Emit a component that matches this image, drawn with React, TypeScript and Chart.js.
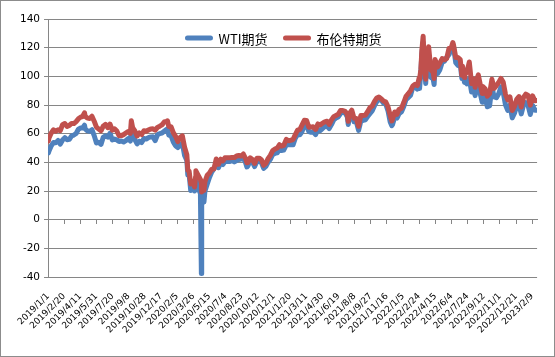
import React, { useEffect, useRef } from "react";
import { Chart, registerables } from "chart.js";

Chart.register(...registerables);

// ---------- data (weekly-ish closes) ----------
const DATES = [
  "2019/1/2","2019/1/4","2019/1/11","2019/1/18","2019/1/25","2019/2/1","2019/2/8","2019/2/15","2019/2/22","2019/3/1",
  "2019/3/8","2019/3/15","2019/3/22","2019/3/29","2019/4/5","2019/4/12","2019/4/18","2019/4/24","2019/4/26","2019/5/3",
  "2019/5/10","2019/5/17","2019/5/24","2019/5/31","2019/6/7","2019/6/14","2019/6/21","2019/6/28","2019/7/5","2019/7/12",
  "2019/7/19","2019/7/26","2019/8/2","2019/8/9","2019/8/16","2019/8/23","2019/8/30","2019/9/6","2019/9/13","2019/9/16",
  "2019/9/20","2019/9/27","2019/10/4","2019/10/11","2019/10/18","2019/10/25","2019/11/1","2019/11/8","2019/11/15","2019/11/22",
  "2019/11/29","2019/12/6","2019/12/13","2019/12/20","2019/12/27","2020/1/3","2020/1/6","2020/1/10","2020/1/17","2020/1/24",
  "2020/1/31","2020/2/7","2020/2/14","2020/2/21","2020/2/28","2020/3/6","2020/3/9","2020/3/13","2020/3/18","2020/3/20",
  "2020/3/27","2020/3/30","2020/4/2","2020/4/3","2020/4/9","2020/4/17","2020/4/20","2020/4/21","2020/4/24","2020/4/28",
  "2020/5/1","2020/5/8","2020/5/15","2020/5/22","2020/5/29","2020/6/5","2020/6/12","2020/6/19","2020/6/26","2020/7/2",
  "2020/7/10","2020/7/17","2020/7/24","2020/7/31","2020/8/7","2020/8/14","2020/8/21","2020/8/28","2020/9/4","2020/9/8",
  "2020/9/11","2020/9/18","2020/9/25","2020/10/2","2020/10/9","2020/10/16","2020/10/23","2020/10/30","2020/11/6","2020/11/13",
  "2020/11/20","2020/11/27","2020/12/4","2020/12/11","2020/12/18","2020/12/24","2020/12/31","2021/1/8","2021/1/15","2021/1/22",
  "2021/1/29","2021/2/5","2021/2/12","2021/2/19","2021/2/26","2021/3/5","2021/3/12","2021/3/19","2021/3/26","2021/4/1",
  "2021/4/9","2021/4/16","2021/4/23","2021/4/30","2021/5/7","2021/5/14","2021/5/21","2021/5/28","2021/6/4","2021/6/11",
  "2021/6/18","2021/6/25","2021/7/2","2021/7/9","2021/7/16","2021/7/19","2021/7/23","2021/7/30","2021/8/6","2021/8/13",
  "2021/8/20","2021/8/27","2021/9/3","2021/9/10","2021/9/17","2021/9/24","2021/10/1","2021/10/8","2021/10/15","2021/10/22",
  "2021/10/29","2021/11/5","2021/11/12","2021/11/19","2021/11/26","2021/12/1","2021/12/3","2021/12/10","2021/12/17","2021/12/23",
  "2021/12/31","2022/1/7","2022/1/14","2022/1/21","2022/1/28","2022/2/4","2022/2/11","2022/2/18","2022/2/24","2022/2/25",
  "2022/3/1","2022/3/4","2022/3/8","2022/3/11","2022/3/16","2022/3/18","2022/3/25","2022/4/1","2022/4/8","2022/4/11",
  "2022/4/14","2022/4/22","2022/4/29","2022/5/6","2022/5/13","2022/5/20","2022/5/27","2022/6/3","2022/6/8","2022/6/10",
  "2022/6/17","2022/6/24","2022/7/1","2022/7/6","2022/7/8","2022/7/14","2022/7/15","2022/7/22","2022/7/29","2022/8/5",
  "2022/8/12","2022/8/16","2022/8/19","2022/8/26","2022/9/2","2022/9/7","2022/9/9","2022/9/16","2022/9/23","2022/9/30",
  "2022/10/7","2022/10/14","2022/10/21","2022/10/28","2022/11/4","2022/11/11","2022/11/18","2022/11/25","2022/12/2","2022/12/9",
  "2022/12/16","2022/12/23","2022/12/30","2023/1/6","2023/1/13","2023/1/20","2023/1/27","2023/2/3","2023/2/10","2023/2/17",
  "2023/2/24"
];

const WTI = [
  46.54,47.96,51.59,53.80,53.69,55.26,52.72,55.59,57.26,55.80,
  56.07,58.52,59.04,60.14,63.08,63.89,64.00,65.89,63.30,61.94,
  61.66,62.76,58.63,53.50,54.00,52.51,57.43,58.47,57.51,60.21,
  55.63,56.20,55.66,54.50,54.87,54.17,55.10,56.52,54.85,62.90,
  58.09,55.91,52.81,54.70,53.78,56.66,56.20,57.24,57.72,57.77,
  55.17,59.20,60.07,60.44,61.72,63.05,63.27,59.04,58.54,54.19,
  51.56,50.32,52.05,53.38,44.76,41.28,31.13,31.73,20.37,22.43,
  21.51,20.09,25.32,28.34,22.76,18.27,-37.63,10.01,16.94,12.34,
  19.78,24.74,29.43,33.25,35.49,39.55,36.26,39.75,38.49,40.65,
  40.55,40.59,41.29,40.27,41.22,42.01,42.34,42.97,39.77,36.76,
  37.33,41.11,40.25,37.05,40.60,40.88,39.85,35.79,37.14,40.13,
  42.15,45.53,46.26,46.57,49.10,48.23,48.52,52.24,52.36,52.27,
  52.20,56.85,59.47,59.24,61.50,66.09,65.61,61.42,60.97,61.45,
  59.32,63.13,62.14,63.58,64.90,65.37,63.58,66.32,69.62,70.91,
  71.64,74.05,75.16,74.56,71.81,66.42,72.07,73.95,68.28,68.44,
  62.32,68.74,69.29,69.72,71.97,73.98,75.88,79.35,82.28,83.76,
  83.57,81.27,80.79,76.10,68.15,65.57,66.26,71.67,70.86,73.79,
  75.21,78.90,83.82,85.14,86.82,92.31,93.10,91.07,92.81,91.59,
  103.41,115.68,123.70,109.33,95.04,104.70,113.90,99.27,98.26,94.29,
  106.95,102.07,104.69,109.77,110.49,113.23,115.07,118.87,122.11,120.67,
  109.56,107.62,108.43,98.53,104.79,95.78,97.59,94.70,98.62,89.01,
  92.09,86.53,90.77,93.06,86.87,81.94,86.79,85.11,78.74,79.49,
  92.64,85.61,85.05,87.90,92.61,88.96,80.08,76.28,79.98,71.02,
  74.29,79.56,80.26,73.77,79.86,81.64,79.68,73.39,79.72,76.34,
  76.32
];

const BRENT = [
  54.91,57.06,60.48,62.70,61.64,62.75,62.10,66.25,67.12,65.07,
  65.74,67.16,67.03,68.39,70.34,71.55,71.97,74.57,72.15,70.85,
  70.62,72.21,68.69,64.49,63.29,62.01,65.20,66.55,64.23,66.72,
  62.47,63.46,61.89,58.53,58.64,59.34,60.43,61.54,60.22,69.02,
  64.28,61.91,58.37,60.51,59.42,62.02,61.69,62.51,63.30,63.39,
  62.43,64.39,65.22,66.14,68.16,68.60,68.91,64.98,64.85,60.69,
  58.16,54.47,57.32,58.50,50.52,45.27,34.36,33.85,24.88,26.98,
  24.93,22.76,29.94,34.11,31.48,28.08,25.57,19.33,21.44,20.46,
  26.44,30.97,32.50,35.13,35.33,42.30,38.73,42.19,41.02,43.14,
  43.24,43.14,43.34,43.30,44.40,44.80,44.35,45.81,42.66,39.78,
  39.83,43.15,41.92,39.27,42.85,42.93,41.77,37.94,39.45,42.78,
  44.96,48.18,49.25,49.97,52.26,51.29,51.80,55.99,55.10,55.41,
  55.88,59.34,62.43,62.91,66.13,69.36,69.22,64.53,64.57,64.86,
  62.95,66.77,66.11,67.25,68.28,68.71,66.44,69.63,71.89,72.69,
  73.51,76.18,76.17,75.55,73.59,68.62,74.10,76.33,70.70,70.59,
  65.18,72.70,72.61,72.92,75.34,78.09,79.28,82.39,84.86,85.53,
  84.38,82.74,82.17,78.89,72.72,68.87,69.88,75.15,73.52,76.85,
  77.78,81.75,86.06,87.89,90.03,93.27,94.44,93.54,99.08,97.93,
  104.97,118.11,127.98,112.67,98.02,107.93,120.65,104.39,102.78,98.48,
  111.70,106.65,109.34,112.39,111.55,112.55,119.43,119.72,123.58,122.01,
  113.12,113.12,111.63,100.69,107.02,99.10,101.16,103.20,110.01,94.92,
  98.15,92.34,96.72,100.99,93.02,88.00,92.84,91.35,86.15,87.96,
  97.92,91.63,93.50,95.77,98.57,95.99,87.62,83.63,85.57,76.10,
  79.04,83.92,85.91,78.57,85.28,87.63,86.66,79.94,86.39,83.00,
  83.16
];

const TICK_LABELS = [
  "2019/1/1","2019/2/20","2019/4/11","2019/5/31","2019/7/20","2019/9/8","2019/10/28","2019/12/17",
  "2020/2/5","2020/3/26","2020/5/15","2020/7/4","2020/8/23","2020/10/12","2020/12/1","2021/1/20",
  "2021/3/11","2021/4/30","2021/6/19","2021/8/8","2021/9/27","2021/11/16","2022/1/5","2022/2/24",
  "2022/4/15","2022/6/4","2022/7/24","2022/9/12","2022/11/1","2022/12/21","2023/2/9"
];

const SERIES_NAMES = ["WTI期货", "布伦特期货"];
const SERIES_COLORS = ["#4F81BD", "#C0504D"];
const Y_MIN = -40;
const Y_MAX = 140;
const Y_STEP = 20;

const GRID_COLOR = "#868686";

function dayIndex(s: string): number {
  const [y, m, d] = s.split("/").map(Number);
  return Math.round((Date.UTC(y, m - 1, d) - Date.UTC(2019, 0, 1)) / 86400000);
}

const X_MIN = dayIndex(TICK_LABELS[0]);
const X_MAX = dayIndex(DATES[DATES.length - 1]);

function setTicks(axis: any) {
  axis.ticks = TICK_LABELS.map((s) => ({ value: dayIndex(s) }));
}

const insideLegend = {
  id: "insideLegend",
  afterDraw(chart: any) {
    const ctx = chart.ctx as CanvasRenderingContext2D;
    const area = chart.chartArea;
    ctx.save();
    ctx.font = '13px "Noto Sans CJK SC"';
    const lineW = 27;
    const gap = 6;
    const spacing = 16;
    const items = chart.data.datasets.map((ds: any) => ({
      label: ds.label as string,
      color: ds.borderColor as string,
      w: ctx.measureText(ds.label).width,
    }));
    const total =
      items.reduce((s: number, it: any) => s + lineW + gap + it.w, 0) + spacing * (items.length - 1);
    let x = chart.width / 2 + 6 - total / 2;
    const y = area.top + 19;
    for (const it of items) {
      ctx.strokeStyle = it.color;
      ctx.lineWidth = 5;
      ctx.lineCap = "round";
      ctx.beginPath();
      ctx.moveTo(x + 2, y);
      ctx.lineTo(x + lineW - 2, y);
      ctx.stroke();
      ctx.fillStyle = "#000";
      ctx.textBaseline = "middle";
      ctx.textAlign = "left";
      ctx.fillText(it.label, x + lineW + gap, y + 1);
      x += lineW + gap + it.w + spacing;
    }
    ctx.restore();
  },
};

export default function App() {
  const ref = useRef<HTMLCanvasElement>(null);

  useEffect(() => {
    document.body.style.margin = "0";
    const series = [WTI, BRENT];
    const chart = new Chart(ref.current!, {
      type: "line",
      data: {
        datasets: series.map((vals, i) => ({
          label: SERIES_NAMES[i],
          data: DATES.map((d, j) => ({ x: dayIndex(d), y: vals[j] })),
          borderColor: SERIES_COLORS[i],
          backgroundColor: SERIES_COLORS[i],
          borderWidth: 5,
          pointRadius: 0,
          pointHoverRadius: 0,
          tension: 0,
          borderJoinStyle: "round" as const,
          borderCapStyle: "round" as const,
          order: i === 0 ? 1 : 0,
        })),
      },
      options: {
        responsive: false,
        animation: false,
        events: [],
        layout: { padding: { left: 15, right: 12, top: 18, bottom: 0 } },
        plugins: {
          legend: { display: false },
          tooltip: { enabled: false },
        },
        scales: {
          x: {
            type: "linear",
            position: "bottom",
            min: X_MIN,
            max: X_MAX,
            bounds: "data",
            afterBuildTicks: setTicks,
            afterFit: (scale: any) => {
              scale.height = 79;
            },
            grid: { display: false, drawTicks: false },
            border: { display: false },
            ticks: {
              autoSkip: false,
              maxRotation: 45,
              minRotation: 45,
              padding: 14,
              color: "#000",
              font: { family: "DejaVu Sans", size: 9 },
              callback: (_v: any, i: number) => TICK_LABELS[i],
            },
          },
          x0: {
            type: "linear",
            position: { y: 0 } as any,
            min: X_MIN,
            max: X_MAX,
            bounds: "data",
            afterBuildTicks: setTicks,
            grid: { display: true, drawOnChartArea: false, drawTicks: true, tickLength: 4, color: GRID_COLOR },
            border: { display: true, color: GRID_COLOR, width: 1 },
            ticks: { display: false },
          },
          y: {
            type: "linear",
            min: Y_MIN,
            max: Y_MAX,
            ticks: {
              stepSize: Y_STEP,
              padding: 4,
              color: "#000",
              font: { family: "DejaVu Sans", size: 10.5 },
            },
            grid: { color: GRID_COLOR, tickLength: 4, lineWidth: 1 },
            border: { display: true, color: GRID_COLOR },
          },
        },
      },
      plugins: [insideLegend],
    } as any);
    return () => chart.destroy();
  }, []);

  return (
    <div
      style={{
        position: "absolute",
        left: 0,
        top: 0,
        width: 555,
        height: 357,
        boxSizing: "border-box",
        border: "1px solid #8c8c8c",
        background: "#fff",
      }}
    >
      <canvas ref={ref} width={553} height={355} style={{ display: "block", width: 553, height: 355 }} />
    </div>
  );
}
